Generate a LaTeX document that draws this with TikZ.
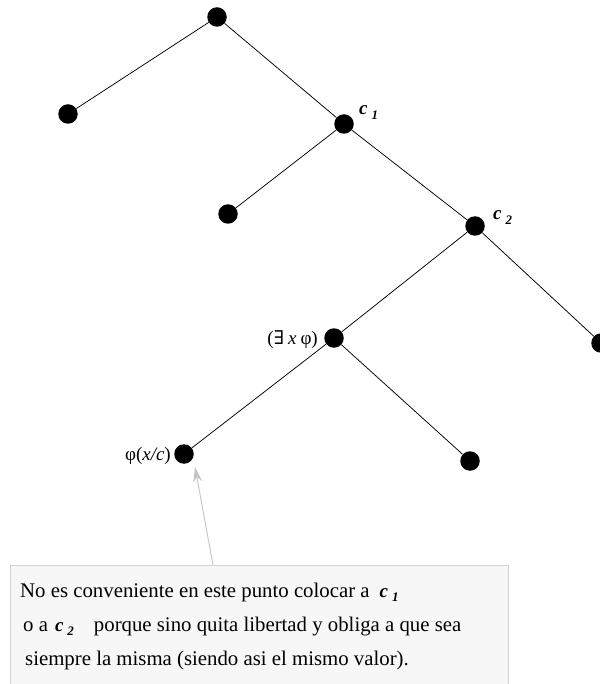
\documentclass[tikz,border=0pt]{standalone}
\usepackage{fontspec}
\setmainfont{Liberation Serif}
\newfontfamily\dejaserif{DejaVu Serif}
\usetikzlibrary{arrows.meta}
\definecolor{boxfill}{HTML}{F7F7F7}
\definecolor{boxline}{HTML}{D2D2D2}
\definecolor{arrgray}{HTML}{C4C4C4}
\newcommand\csub[1]{{\fontsize{19}{21}\selectfont\textbf{\textit{c}}}\hspace{4pt}\raisebox{-4.5pt}{\fontsize{13}{13}\selectfont\textbf{\textit{#1}}}}
\begin{document}
\begin{tikzpicture}[x=1pt,y=-1pt,
  dot/.style={circle,fill=black,inner sep=0pt,minimum size=19.5pt},
  edge/.style={draw=black,line width=0.75pt},
  lab/.style={font=\fontsize{19}{21}\selectfont,inner sep=0pt},
  boxtext/.style={font=\fontsize{20.8}{24}\selectfont,inner sep=0pt,anchor=base west},
  callout/.style={draw=arrgray,line width=0.9pt,-{Stealth[length=15pt,width=9pt,fill=arrgray]}}]
\useasboundingbox (0,0) rectangle (599,684);
% callout box
\fill[boxfill] (10,565) rectangle (508,684);
\draw[boxline,line width=1pt] (10,684) -- (10,565) -- (508,565) -- (508,684);
% tree nodes
\node[dot] (root) at (217,17) {};
\node[dot] (a) at (68,114) {};
\node[dot] (c1) at (344,124) {};
\node[dot] (b) at (228,214) {};
\node[dot] (c2) at (475,226) {};
\node[dot] (r) at (601,343) {};
\node[dot] (ex) at (334,338) {};
\node[dot] (phi) at (184,454) {};
\node[dot] (d) at (470,461) {};
% edges
\draw[edge] (root) -- (a);
\draw[edge] (root) -- (c1);
\draw[edge] (c1) -- (b);
\draw[edge] (c1) -- (c2);
\draw[edge] (c2) -- (ex);
\draw[edge] (c2) -- (r);
\draw[edge] (ex) -- (phi);
\draw[edge] (ex) -- (d);
% labels
\node[lab,anchor=base west] (c1lab) at (359,115) {\csub{1}};
\node[lab,anchor=base west] (c2lab) at (493,220) {\csub{2}};
\node[lab,anchor=base east] (exlab) at (318,344) {({\dejaserif ∃}\hspace{4pt}\textit{x}\hspace{4pt}φ)};
\node[lab,anchor=base east] (philab) at (171,460) {φ(\textit{x/c})};
% callout arrow
\coordinate (arrs) at (213,565);
\coordinate (arrt) at (195,467);
\draw[callout] (arrs) -- (arrt);
% box text
\node[boxtext] (t1) at (20,597) {No es conveniente en este punto colocar a\hspace{10pt}\csub{1}};
\node[boxtext] (t2) at (23,631) {o a\hspace{7pt}\csub{2}\hspace{20pt}porque sino quita libertad y obliga a que sea};
\node[boxtext] (t3) at (25,665) {siempre la misma (siendo asi el mismo valor).};
\end{tikzpicture}
\end{document}
